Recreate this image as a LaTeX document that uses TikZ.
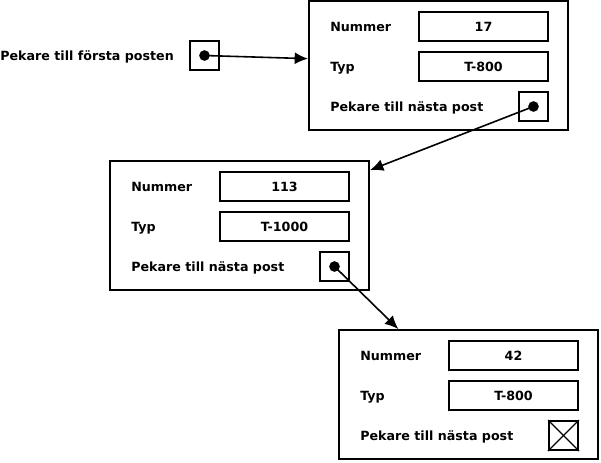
\documentclass[tikz,border=0pt]{standalone}
\usepackage{fontspec}
\setmainfont{DejaVu Sans}
\usetikzlibrary{arrows.meta, positioning}

\begin{document}
\begin{tikzpicture}[x=0.75pt, y=-0.75pt, >={Latex[length=10pt,width=9pt]},
	font=\bfseries\fontsize{9.5}{11}\selectfont,
	post/.style={draw, line width=1.5pt, minimum width=194.25pt, minimum height=96.75pt, inner sep=0pt},
	field/.style={draw, line width=1.5pt, minimum width=96.75pt, minimum height=21.75pt, inner sep=0pt},
	ptr/.style={draw, line width=1.5pt, minimum size=21.75pt, inner sep=0pt},
	lbl/.style={anchor=base west, inner sep=0pt},
	dot/.style={circle, fill, inner sep=0pt, minimum size=8pt},
	link/.style={->, line width=1.2pt}]

\useasboundingbox (0,0) rectangle (601,462);

% ===== Start pointer =====
\node[lbl] (startlbl) at (0,60) {Pekare till första posten};
\node[ptr] (start) at (204.5,55.5) {};
\node[dot] (startdot) at (start.center) {};

% ===== Post 1 =====
\begin{scope}[shift={(309,1)}]
	\node[post] (p1) at (129.5,64.5) {};
	\node[lbl] (p1nrlbl) at (21,30) {Nummer};
	\node[field] (p1nr) at (174.5,25.5) {17};
	\node[lbl] (p1typlbl) at (21,70) {Typ};
	\node[field] (p1typ) at (174.5,65.5) {T-800};
	\node[lbl] (p1nextlbl) at (21,110) {Pekare till nästa post};
	\node[ptr] (p1next) at (224.5,105.5) {};
	\node[dot] (p1dot) at (p1next.center) {};
\end{scope}

% ===== Post 2 =====
\begin{scope}[shift={(110,161)}]
	\node[post] (p2) at (129.5,64.5) {};
	\node[lbl] (p2nrlbl) at (21,30) {Nummer};
	\node[field] (p2nr) at (174.5,25.5) {113};
	\node[lbl] (p2typlbl) at (21,70) {Typ};
	\node[field] (p2typ) at (174.5,65.5) {T-1000};
	\node[lbl] (p2nextlbl) at (21,110) {Pekare till nästa post};
	\node[ptr] (p2next) at (224.5,105.5) {};
	\node[dot] (p2dot) at (p2next.center) {};
\end{scope}

% ===== Post 3 =====
\begin{scope}[shift={(339,330)}]
	\node[post] (p3) at (129.5,64.5) {};
	\node[lbl] (p3nrlbl) at (21,30) {Nummer};
	\node[field] (p3nr) at (174.5,25.5) {42};
	\node[lbl] (p3typlbl) at (21,70) {Typ};
	\node[field] (p3typ) at (174.5,65.5) {T-800};
	\node[lbl] (p3nextlbl) at (21,110) {Pekare till nästa post};
	\node[ptr] (p3next) at (224.5,105.5) {};
	% null pointer
	\draw[line width=1pt] (p3next.north west) -- (p3next.south east);
	\draw[line width=1pt] (p3next.south west) -- (p3next.north east);
\end{scope}

% ===== Links =====
\draw[link] (startdot.center) -- (p1.177.5);
\draw[link] (p1dot.center) -- (p2.23);
\draw[link] (p2dot.center) -- (p3.137);

\end{tikzpicture}
\end{document}
